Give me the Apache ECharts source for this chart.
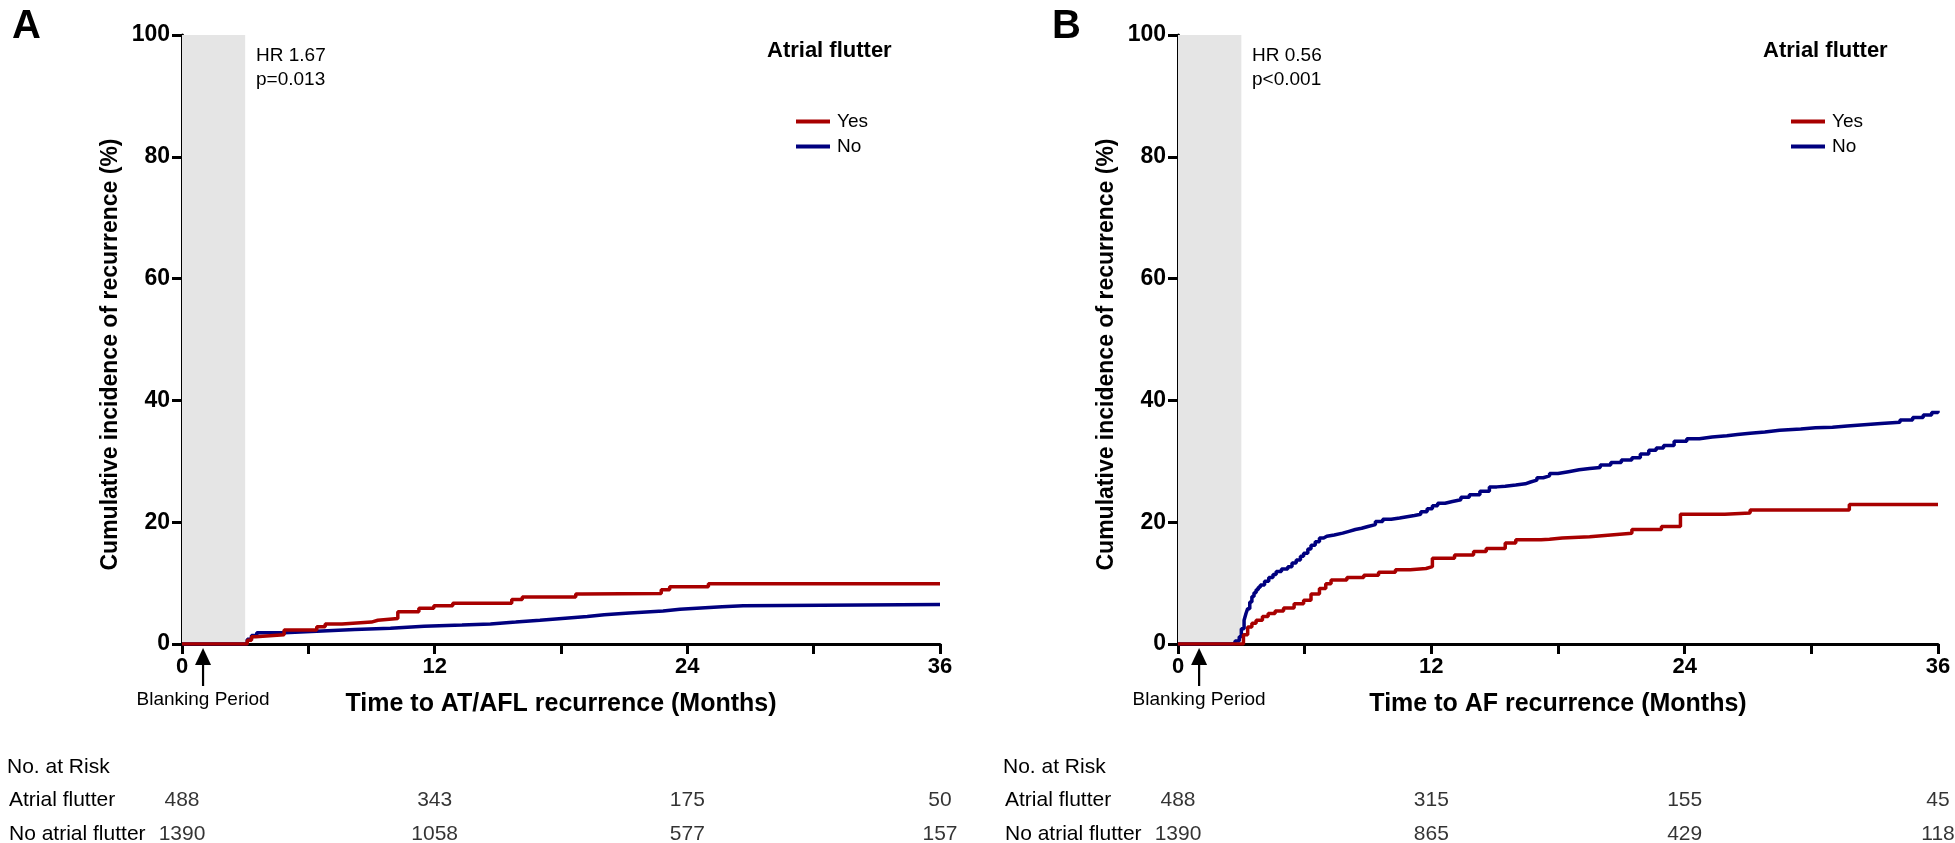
<!DOCTYPE html>
<html>
<head>
<meta charset="utf-8">
<script src="https://cdn.jsdelivr.net/npm/echarts@6/dist/echarts.min.js"></script>
<style>html,body{margin:0;padding:0;background:#fff}#c{width:1955px;height:843px}</style>
</head>
<body>
<div id="c"></div>
<script>
// ---- data ----
var riskTimes = [0, 12, 24, 36];
var aRiskAF = [488, 343, 175, 50];
var aRiskNoAF = [1390, 1058, 577, 157];
var bRiskAF = [488, 315, 155, 45];
var bRiskNoAF = [1390, 865, 429, 118];

// Panel A: AT/AFL recurrence (months, %)
var aYes = [[0,0],[2.9,0],[3.1,0.6],[3.3,1.2],[3.5,1.5],[4.85,2.3],[6.4,2.85],[6.8,3.3],[7.6,3.6],[9.0,3.9],[9.3,4.2],[10.25,5.3],[11.25,5.85],[11.96,6.3],[12.86,6.7],[15.66,7.3],[16.16,7.7],[18.7,8.2],[19.0,8.3],[22.76,8.9],[23.16,9.4],[25.0,9.9],[36,9.9]];
var aNo = [[0,0],[2.9,0],[3.1,0.8],[3.3,1.4],[3.55,1.85],[4.85,2.1],[6.4,2.4],[8.2,2.6],[9.9,2.9],[11.5,3.1],[13.3,3.3],[14.65,3.6],[15.85,3.9],[17.0,4.2],[18.05,4.5],[19.25,4.8],[20.05,5.1],[21.25,5.4],[22.85,5.7],[23.65,5.9],[24.65,6.1],[25.65,6.3],[26.65,6.5],[36,6.5]];

// Panel B: AF recurrence (months, %)
var bYes = [[0,0],[2.95,0],[3.1,1.5],[3.3,2.8],[3.5,3.4],[3.7,3.9],[4.0,4.5],[4.27,5.0],[4.6,5.4],[5.0,5.9],[5.5,6.6],[5.95,7.2],[6.3,8.2],[6.7,9.1],[7.0,9.9],[7.25,10.5],[8.0,10.9],[8.8,11.3],[9.5,11.8],[10.3,12.2],[11.0,12.4],[11.75,12.7],[12.05,14.1],[13.1,14.6],[14.0,15.2],[14.6,15.7],[15.5,16.6],[16.0,17.1],[17.2,17.2],[17.6,17.4],[18.2,17.6],[19.5,17.9],[20.5,18.2],[21.5,18.8],[22.9,19.3],[23.8,21.3],[25.9,21.5],[27.1,22.0],[31.8,22.9],[36,22.9]];
var bNo = [[0,0],[2.5,0],[2.7,0.5],[2.9,1.2],[3.0,2.5],[3.13,3.9],[3.22,5.0],[3.3,5.8],[3.4,6.9],[3.5,7.8],[3.6,8.4],[3.7,8.9],[3.8,9.3],[3.9,9.7],[4.1,10.3],[4.3,10.9],[4.5,11.4],[4.65,11.9],[4.9,12.3],[5.2,12.7],[5.4,13.3],[5.6,13.8],[5.8,14.4],[5.95,14.9],[6.15,15.6],[6.3,16.2],[6.5,16.8],[6.7,17.4],[6.9,17.7],[7.05,17.9],[7.4,18.2],[7.8,18.5],[8.1,18.8],[8.4,19.0],[8.7,19.3],[9.0,19.6],[9.35,20.1],[9.7,20.5],[10.1,20.7],[10.5,20.9],[10.85,21.1],[11.2,21.3],[11.5,21.7],[11.8,22.2],[12.05,22.7],[12.3,23.1],[12.65,23.4],[13.0,23.7],[13.4,24.1],[13.8,24.5],[14.3,25.1],[14.75,25.8],[15.1,25.9],[15.5,26.1],[16.0,26.3],[16.45,26.6],[16.7,26.9],[17.0,27.3],[17.3,27.6],[17.6,28.0],[18.0,28.3],[18.5,28.6],[19.0,28.8],[19.5,29.0],[20.0,29.4],[20.5,29.8],[21.0,30.2],[21.5,30.6],[21.9,31.2],[22.3,31.8],[22.65,32.2],[23.0,32.6],[23.5,33.3],[24.1,33.7],[24.7,34.0],[25.3,34.2],[26.0,34.4],[26.5,34.6],[27.1,34.8],[27.8,35.1],[28.5,35.3],[29.5,35.5],[30.2,35.6],[31.0,35.8],[31.7,36.0],[32.5,36.2],[33.3,36.4],[34.2,36.8],[34.8,37.2],[35.3,37.6],[35.7,38.0],[36,38.3]];

var blankingEnd = 3;
var blankingArrowAt = 1.0;
var riskRows = ['Atrial flutter', 'No atrial flutter'];

var RED = '#a80000', BLUE = '#00007f', FONT = "'Liberation Sans', Arial, sans-serif";

function mainX(gi, name) {
  return {
    gridIndex: gi, type: 'value', min: 0, max: 36, interval: 6,
    name: name, nameLocation: 'middle', nameGap: 48,
    nameTextStyle: {fontFamily: FONT, fontWeight: 'bold', fontSize: 25, color: '#000'},
    axisLine: {lineStyle: {color: '#000', width: 3}},
    axisTick: {length: 10, lineStyle: {color: '#000', width: 3}},
    axisLabel: {fontFamily: FONT, fontWeight: 'bold', fontSize: 22, color: '#000', margin: 12,
      formatter: function (v) { return v % 12 === 0 ? String(v) : ''; }},
    splitLine: {show: false}
  };
}
function mainY(gi) {
  return {
    gridIndex: gi, type: 'value', min: 0, max: 100, interval: 20,
    name: 'Cumulative incidence of recurrence (%)', nameLocation: 'middle', nameGap: 60,
    nameTextStyle: {fontFamily: FONT, fontWeight: 'bold', fontSize: 23, color: '#000', padding: [0, 30, 0, 0]},
    axisLine: {show: true, lineStyle: {color: '#000', width: 3}},
    axisTick: {show: true, length: 10, lineStyle: {color: '#000', width: 3}},
    axisLabel: {fontFamily: FONT, fontWeight: 'bold', fontSize: 23, color: '#000', margin: 12},
    splitLine: {show: false}
  };
}
function tableX(gi) {
  return {gridIndex: gi, type: 'value', min: 0, max: 36, show: false};
}
function tableY(gi) {
  return {gridIndex: gi, type: 'category', data: riskRows, inverse: true, boundaryGap: false, show: false};
}
function bandSeries(ai) {
  return {
    type: 'line', xAxisIndex: ai, yAxisIndex: ai, data: [[0, 0]], showSymbol: false, silent: true,
    lineStyle: {opacity: 0}, z: 1,
    markArea: {silent: true, itemStyle: {color: '#e5e5e5'},
      data: [[{coord: [0, 0]}, {coord: [blankingEnd, 100]}]]}
  };
}
function kmSeries(ai, name, data, color) {
  return {
    type: 'line', name: name, xAxisIndex: ai, yAxisIndex: ai, data: data, step: 'end',
    showSymbol: false, color: color, lineStyle: {color: color, width: 3.5}, z: 3, silent: true
  };
}
function riskSeries(ai, afVals, noVals) {
  var d = [];
  riskTimes.forEach(function (t, i) { d.push([t, riskRows[0], afVals[i]]); });
  riskTimes.forEach(function (t, i) { d.push([t, riskRows[1], noVals[i]]); });
  return {
    type: 'scatter', xAxisIndex: ai, yAxisIndex: ai, data: d, symbolSize: 0, silent: true, clip: false,
    label: {show: true, position: 'inside', fontFamily: FONT, fontSize: 21, color: '#000',
      formatter: function (p) { return String(p.value[2]); }}
  };
}
function legend(left) {
  return {
    orient: 'vertical', left: left, top: 107, data: ['Yes', 'No'], icon: 'rect',
    itemWidth: 34, itemHeight: 4, itemGap: 6, selectedMode: false,
    textStyle: {fontFamily: FONT, fontSize: 19, color: '#000', lineHeight: 19, padding: [0, 0, 0, 2]}
  };
}
function txt(left, top, text, size, bold, extra) {
  var s = {text: text, fontFamily: FONT, fontSize: size, fontWeight: bold ? 'bold' : 'normal', fill: '#000'};
  if (extra) for (var k in extra) s[k] = extra[k];
  return {type: 'text', left: left, top: top, style: s, z: 10};
}

var chart = echarts.init(document.getElementById('c'), null, {renderer: 'canvas'});
var option = {
  animation: false,
  backgroundColor: '#fff',
  grid: [
    {left: 182, top: 35, width: 758, height: 609},
    {left: 1178, top: 35, width: 760, height: 609},
    {left: 182, top: 800, width: 758, height: 34},
    {left: 1178, top: 800, width: 760, height: 34}
  ],
  xAxis: [mainX(0, 'Time to AT/AFL recurrence (Months)'), mainX(1, 'Time to AF recurrence (Months)'), tableX(2), tableX(3)],
  yAxis: [mainY(0), mainY(1), tableY(2), tableY(3)],
  legend: [legend(791), legend(1786)],
  series: [
    bandSeries(0), bandSeries(1),
    kmSeries(0, 'No', aNo, BLUE), kmSeries(0, 'Yes', aYes, RED),
    kmSeries(1, 'No', bNo, BLUE), kmSeries(1, 'Yes', bYes, RED),
    riskSeries(2, aRiskAF, aRiskNoAF), riskSeries(3, bRiskAF, bRiskNoAF)
  ]
};
chart.setOption(option);

function arrowAt(ai) {
  var x = chart.convertToPixel({xAxisIndex: ai}, blankingArrowAt);
  var yTop = 648;
  return [
    {type: 'polygon', shape: {points: [[x, yTop], [x - 8, yTop + 17], [x + 8, yTop + 17]]}, style: {fill: '#000'}, z: 10},
    {type: 'line', shape: {x1: x, y1: yTop + 14, x2: x, y2: 686}, style: {stroke: '#000', lineWidth: 2.2}, z: 10},
    {type: 'text', x: x, y: 690, style: {text: 'Blanking Period', fontFamily: FONT, fontSize: 19, fill: '#000', textAlign: 'center', textVerticalAlign: 'top'}, z: 10}
  ];
}

var g = [];
g.push(txt(12, 7, 'A', 40, true));
g.push(txt(1052, 7, 'B', 40, true));
g.push(txt(256, 44, 'HR 1.67\np=0.013', 19, false, {lineHeight: 24}));
g.push(txt(1252, 44, 'HR 0.56\np<0.001', 19, false, {lineHeight: 24}));
g.push(txt(767, 40, 'Atrial flutter', 22, true));
g.push(txt(1763, 40, 'Atrial flutter', 22, true));
g.push(txt(7, 757, 'No. at Risk', 21, false));
g.push(txt(9, 790, 'Atrial flutter', 21, false));
g.push(txt(9, 824, 'No atrial flutter', 21, false));
g.push(txt(1003, 757, 'No. at Risk', 21, false));
g.push(txt(1005, 790, 'Atrial flutter', 21, false));
g.push(txt(1005, 824, 'No atrial flutter', 21, false));
g = g.concat(arrowAt(0), arrowAt(1));
chart.setOption({graphic: g});
</script>
</body>
</html>
